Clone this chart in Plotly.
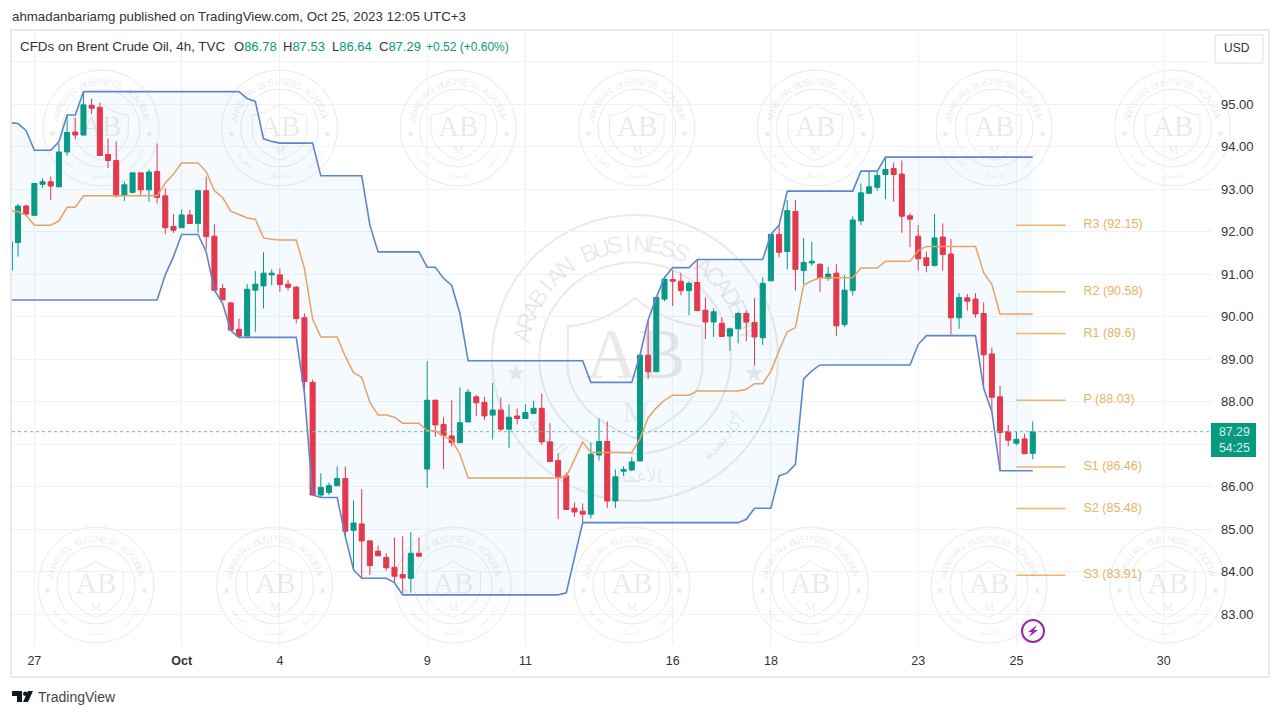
"""
plot.py
-------
Brent Crude 4h candles with Donchian channel, pivot levels and the watermark.
"""

import math
import plotly.graph_objects as go

# ── DATA ─────────────────────────────────────────────
bars = list(range(-1, 125))

opens = [
    91.09, 91.74, 92.60, 92.38, 93.11, 93.17, 93.05, 93.87, 94.34, 94.27,
    94.97, 94.92, 93.81, 93.67, 92.85, 92.92, 93.38, 92.98, 93.41, 92.84,
    92.12, 92.09, 92.39, 92.19, 92.96, 91.89, 90.66, 90.32, 89.70, 89.54,
    90.62, 90.72, 90.98, 90.98, 90.76, 90.69, 89.97, 88.45, 85.80, 85.86,
    86.02, 86.19, 84.97, 85.12, 84.72, 84.48, 84.33, 84.10, 83.93, 83.84,
    84.43, 86.41, 88.03, 87.46, 87.19, 87.03, 87.52, 88.11, 87.98, 87.68,
    87.80, 87.35, 87.66, 87.60, 87.72, 87.84, 87.05, 86.61, 86.25, 85.49,
    85.42, 85.35, 86.74, 87.06, 85.66, 86.36, 86.39, 86.60, 89.09, 88.70,
    90.41, 90.87, 90.83, 90.61, 90.80, 90.15, 89.87, 89.84, 89.54, 89.71,
    90.07, 89.86, 89.50, 90.84, 91.93, 91.53, 92.47, 91.08, 91.26, 91.23,
    90.90, 91.02, 89.81, 90.61, 92.25, 92.90, 93.04, 93.34, 93.48, 93.35,
    92.37, 91.89, 91.38, 91.20, 91.87, 91.47, 89.97, 90.44, 90.41, 90.07,
    89.12, 88.11, 87.29, 87.02, 87.12, 86.78]
highs = [
    91.75, 92.65, 92.63, 93.13, 93.25, 93.29, 94.07, 94.74, 94.68, 95.29,
    95.13, 95.03, 94.19, 94.12, 93.17, 93.38, 93.38, 93.46, 94.07, 93.02,
    92.41, 92.52, 92.51, 92.96, 93.29, 92.17, 90.76, 90.34, 89.95, 90.76,
    91.07, 91.51, 91.11, 91.13, 90.87, 90.72, 90.07, 88.52, 86.31, 86.09,
    86.47, 86.47, 85.67, 85.94, 84.74, 84.61, 84.43, 84.80, 84.83, 84.92,
    84.80, 88.95, 88.05, 87.63, 88.03, 88.33, 88.29, 88.15, 88.11, 88.44,
    88.09, 87.93, 87.84, 87.93, 88.01, 88.19, 87.49, 86.78, 86.33, 85.62,
    85.60, 87.03, 87.60, 87.53, 86.40, 86.48, 86.69, 89.09, 89.92, 90.45,
    90.92, 91.09, 91.03, 90.83, 91.33, 90.45, 90.19, 89.98, 89.74, 90.11,
    90.14, 90.43, 90.92, 91.93, 92.15, 92.74, 92.74, 91.85, 91.75, 91.25,
    91.17, 91.23, 90.98, 92.36, 93.13, 93.41, 93.41, 93.75, 93.62, 93.67,
    92.43, 92.15, 91.53, 92.41, 92.19, 91.82, 90.55, 90.53, 90.55, 90.33,
    89.27, 88.37, 87.45, 87.29, 87.24, 87.53]
lows = [
    91.09, 91.41, 92.36, 92.38, 93.03, 92.74, 93.05, 93.78, 94.17, 94.27,
    94.76, 93.79, 93.49, 92.80, 92.72, 92.90, 92.86, 92.70, 92.66, 91.94,
    91.97, 92.09, 92.18, 91.97, 91.58, 90.62, 90.39, 89.67, 89.51, 89.54,
    89.64, 90.19, 90.74, 90.58, 90.61, 89.84, 88.19, 85.80, 85.75, 85.80,
    86.02, 84.82, 84.04, 83.84, 83.92, 84.37, 84.02, 83.76, 83.49, 83.50,
    84.36, 85.97, 87.17, 86.41, 86.94, 87.03, 87.52, 87.66, 87.56, 87.11,
    87.31, 86.90, 87.46, 87.60, 87.72, 86.98, 86.57, 85.23, 85.45, 85.29,
    85.15, 85.25, 86.61, 85.49, 85.49, 86.25, 86.36, 86.60, 88.53, 88.70,
    90.36, 90.25, 90.50, 90.03, 90.12, 89.47, 89.52, 89.52, 89.19, 89.37,
    89.42, 88.85, 89.33, 90.84, 91.39, 91.11, 90.61, 90.76, 91.19, 90.58,
    90.84, 89.54, 89.75, 90.49, 92.15, 92.90, 92.96, 92.76, 92.70, 91.97,
    91.63, 91.08, 91.04, 91.17, 91.08, 89.58, 89.71, 90.14, 89.97, 88.31,
    87.76, 86.37, 86.95, 86.97, 86.77, 86.64]
closes = [
    91.75, 92.60, 92.41, 93.13, 93.17, 93.07, 93.87, 94.33, 94.27, 94.98,
    94.90, 93.79, 93.67, 92.84, 93.10, 93.38, 92.98, 93.40, 92.80, 92.09,
    92.03, 92.39, 92.19, 92.96, 91.88, 90.62, 90.39, 89.68, 89.54, 90.64,
    90.76, 91.02, 91.02, 90.75, 90.69, 89.95, 88.47, 85.80, 85.98, 86.02,
    86.19, 84.95, 85.14, 84.72, 84.14, 84.37, 84.09, 83.89, 83.85, 84.43,
    84.36, 88.03, 87.45, 87.20, 87.03, 87.50, 88.22, 87.97, 87.66, 87.80,
    87.35, 87.63, 87.60, 87.74, 87.84, 87.05, 86.59, 86.23, 85.46, 85.40,
    85.35, 86.76, 87.06, 85.66, 86.23, 86.40, 86.58, 89.09, 88.70, 90.45,
    90.88, 90.83, 90.61, 90.78, 90.14, 89.87, 90.11, 89.53, 89.71, 90.07,
    89.87, 89.52, 90.78, 91.93, 91.51, 92.49, 91.11, 91.27, 91.30, 90.91,
    91.00, 89.78, 90.62, 92.27, 92.91, 93.05, 93.32, 93.46, 93.34, 92.36,
    92.29, 91.36, 91.20, 91.85, 91.46, 89.97, 90.45, 90.36, 90.06, 89.10,
    88.10, 87.27, 87.09, 87.11, 86.77, 87.29]

upper = [
    94.56, 94.54, 94.37, 93.91, 93.91, 93.91, 94.11, 94.74, 94.74, 95.29,
    95.29, 95.29, 95.29, 95.29, 95.29, 95.29, 95.29, 95.29, 95.29, 95.29,
    95.29, 95.29, 95.29, 95.29, 95.29, 95.29, 95.29, 95.29, 95.29, 95.13,
    95.06, 94.18, 94.12, 94.08, 94.08, 94.08, 94.08, 94.08, 93.31, 93.31,
    93.31, 93.31, 93.31, 93.31, 92.15, 91.52, 91.52, 91.52, 91.52, 91.52,
    91.52, 91.16, 91.16, 90.90, 90.73, 90.07, 88.96, 88.96, 88.96, 88.96,
    88.96, 88.96, 88.96, 88.96, 88.96, 88.96, 88.96, 88.96, 88.96, 88.96,
    88.96, 88.45, 88.45, 88.45, 88.45, 88.45, 88.45, 89.09, 89.92, 90.45,
    90.92, 91.15, 91.15, 91.15, 91.34, 91.34, 91.34, 91.34, 91.34, 91.34,
    91.34, 91.34, 91.34, 91.93, 92.15, 92.95, 92.95, 92.95, 92.95, 92.95,
    92.95, 92.95, 92.95, 92.95, 93.42, 93.42, 93.42, 93.75, 93.75, 93.75,
    93.75, 93.75, 93.75, 93.75, 93.75, 93.75, 93.75, 93.75, 93.75, 93.75,
    93.75, 93.75, 93.75, 93.75, 93.75, 93.75]
lower = [
    90.39, 90.39, 90.39, 90.39, 90.39, 90.39, 90.39, 90.39, 90.39, 90.39,
    90.39, 90.39, 90.39, 90.39, 90.39, 90.39, 90.39, 90.39, 90.39, 90.98,
    91.41, 91.93, 91.93, 91.93, 91.52, 90.62, 90.31, 89.67, 89.51, 89.51,
    89.51, 89.51, 89.51, 89.51, 89.51, 89.51, 88.19, 85.80, 85.74, 85.74,
    85.74, 84.82, 84.04, 83.84, 83.84, 83.84, 83.84, 83.74, 83.45, 83.45,
    83.45, 83.45, 83.45, 83.45, 83.45, 83.45, 83.45, 83.45, 83.45, 83.45,
    83.45, 83.45, 83.45, 83.45, 83.45, 83.45, 83.45, 83.45, 83.50, 84.33,
    85.15, 85.15, 85.15, 85.15, 85.15, 85.15, 85.15, 85.15, 85.15, 85.15,
    85.15, 85.15, 85.15, 85.15, 85.15, 85.15, 85.15, 85.15, 85.15, 85.15,
    85.23, 85.49, 85.49, 85.49, 86.25, 86.32, 86.52, 88.53, 88.72, 88.86,
    88.86, 88.86, 88.86, 88.86, 88.86, 88.86, 88.86, 88.86, 88.86, 88.86,
    88.86, 89.34, 89.55, 89.55, 89.55, 89.55, 89.55, 89.55, 89.55, 88.31,
    87.76, 86.37, 86.37, 86.37, 86.37, 86.37]
basis = [
    92.48, 92.47, 92.38, 92.15, 92.15, 92.15, 92.25, 92.57, 92.57, 92.84,
    92.84, 92.84, 92.84, 92.84, 92.84, 92.84, 92.84, 92.84, 92.84, 93.14,
    93.35, 93.61, 93.61, 93.61, 93.41, 92.96, 92.80, 92.48, 92.40, 92.32,
    92.29, 91.85, 91.82, 91.80, 91.80, 91.80, 91.13, 89.94, 89.52, 89.52,
    89.52, 89.06, 88.68, 88.57, 87.98, 87.68, 87.68, 87.63, 87.49, 87.49,
    87.49, 87.31, 87.31, 87.18, 87.09, 86.76, 86.20, 86.20, 86.20, 86.20,
    86.20, 86.20, 86.20, 86.20, 86.20, 86.20, 86.20, 86.20, 86.23, 86.64,
    87.05, 86.80, 86.80, 86.80, 86.80, 86.80, 86.80, 87.12, 87.62, 87.85,
    88.03, 88.15, 88.15, 88.15, 88.25, 88.25, 88.25, 88.25, 88.25, 88.25,
    88.29, 88.42, 88.42, 88.71, 89.20, 89.64, 89.74, 90.74, 90.84, 90.91,
    90.91, 90.91, 90.91, 90.91, 91.14, 91.14, 91.14, 91.30, 91.30, 91.30,
    91.30, 91.55, 91.65, 91.65, 91.65, 91.65, 91.65, 91.65, 91.65, 91.03,
    90.75, 90.06, 90.06, 90.06, 90.06, 90.06]

pivot_names = ["R3", "R2", "R1", "P", "S1", "S2", "S3"]
pivot_labels = ["92.15", "90.58", "89.6", "88.03", "86.46", "85.48", "83.91"]
pivot_values = [92.15, 90.58, 89.60, 88.03, 86.46, 85.48, 83.91]

date_ticks = [2, 20, 32, 50, 62, 80, 92, 110, 122, 140]
date_labels = ["27", "<b>Oct</b>", "4", "9", "11", "16", "18", "23", "25", "30"]
price_ticks = [83, 84, 85, 86, 87, 88, 89, 90, 91, 92, 93, 94, 95, 96]
# 87.00 sits behind the last-price badge, 96.00 behind the header: grid only
price_labels = ["83.00", "84.00", "85.00", "86.00", "", "88.00", "89.00",
                "90.00", "91.00", "92.00", "93.00", "94.00", "95.00", ""]
last_price = 87.29

# ── STYLE ────────────────────────────────────────────
GREEN = "#089981"
RED = "#EE3345"
BLUE = "#5F86CC"
ORANGE = "#E9A263"
PIVOT = "#F0B566"
GRID = "#F0F2F6"
FRAME = "#E8EAEE"
MARK = "rgba(120,125,135,0.16)"
FONT = "Liberation Sans"
L, R, T, B = 12, 1212, 30, 645   # plot area in page pixels


def px(x):
    return (x - L) / (R - L)


def py(y):
    return (B - y) / (B - T)


def path(points):
    return "M " + " L ".join(f"{px(x):.5f},{py(y):.5f}" for x, y in points) + " Z"


def text(x, y, s, size=12, color="#333", angle=0, family=FONT, anchor="center"):
    return dict(xref="paper", yref="paper", x=px(x), y=py(y), text=s, textangle=angle,
                showarrow=False, xanchor=anchor, yanchor="middle",
                font=dict(size=size, color=color, family=family))


# ── WATERMARK ────────────────────────────────────────
shapes, notes = [], []


def watermark(cx, cy, r, lw):
    for k in (1.0, 0.67):
        shapes.append(dict(type="circle", xref="paper", yref="paper", layer="below",
                           x0=px(cx - r * k), x1=px(cx + r * k),
                           y0=py(cy + r * k), y1=py(cy - r * k),
                           line=dict(color="#E9EAEC", width=lw)))
    p = lambda a, b: f"{px(cx + a * r):.5f},{py(cy + b * r):.5f}"
    shield = (f"M {p(0, -.42)} Q {p(.2, -.25)} {p(.47, -.22)} L {p(.47, .1)} "
              f"Q {p(.42, .4)} {p(0, .56)} Q {p(-.42, .4)} {p(-.47, .1)} "
              f"L {p(-.47, -.22)} Q {p(-.2, -.25)} {p(0, -.42)} Z")
    shapes.append(dict(type="path", xref="paper", yref="paper", layer="below", path=shield,
                       line=dict(color="#E9EAEC", width=lw)))
    notes.append(text(cx, cy - .03 * r, "AB", r * .5, MARK, family="Liberation Serif"))
    notes.append(text(cx, cy + .38 * r, "M", r * .2, MARK, family="Liberation Serif"))
    for s, sign in (("★", -1), ("★", 1)):
        notes.append(text(cx + sign * .83 * r, cy + .1 * r, s, r * .17, MARK, family="DejaVu Sans"))
    word = "ARABIAN BUSINESS ACADEMY"
    for i, ch in enumerate(word):
        if ch == " ":
            continue
        deg = 168 - i * 156 / (len(word) - 1)
        a = math.radians(deg)
        notes.append(text(cx + .8 * r * math.cos(a), cy - .8 * r * math.sin(a), ch,
                          r * .165, MARK, 90 - deg))
    for w, deg in (("أكاديمية", -42), ("الأعمال", -90), ("العربية", -138)):
        a = math.radians(deg)
        notes.append(text(cx + .82 * r * math.cos(a), cy - .82 * r * math.sin(a), w,
                          r * .12, MARK, -(deg + 90), family="DejaVu Sans"))


for k in range(7):
    watermark(101 + 178.6 * k, 128, 58, 1)
    watermark(96 + 178.6 * k, 585, 58, 1)
watermark(635, 358, 143, 2)

# ── FRAME, HEADER, BADGES ────────────────────────────
shapes.append(dict(type="rect", xref="paper", yref="paper", layer="below",
                   x0=px(11), x1=px(1269), y0=py(677), y1=py(30),
                   line=dict(color=FRAME, width=2)))
shapes.append(dict(type="rect", xref="paper", yref="paper", layer="above",
                   x0=px(1215), x1=px(1263), y0=py(63), y1=py(35), fillcolor="white",
                   line=dict(color=FRAME, width=1.5)))
shapes.append(dict(type="rect", xref="paper", yref="paper", layer="above",
                   x0=px(1211), x1=px(1256), y0=py(457), y1=py(423), fillcolor=GREEN,
                   line=dict(width=0)))
shapes.append(dict(type="circle", xref="paper", yref="paper", layer="above",
                   x0=px(1022), x1=px(1044), y0=py(642), y1=py(620),
                   line=dict(color="#9C27B0", width=2)))
shapes.append(dict(type="path", xref="paper", yref="paper", layer="above", fillcolor="#9C27B0",
                   path=path([(1037, 625), (1028, 632), (1032, 632), (1029, 637), (1038, 630), (1034, 630)]),
                   line=dict(width=0)))
# TradingView logo
shapes.append(dict(type="path", xref="paper", yref="paper", layer="above", fillcolor="#131722",
                   path=path([(12, 691), (22, 691), (22, 702), (17, 702), (17, 696), (12, 696)]),
                   line=dict(width=0)))
shapes.append(dict(type="path", xref="paper", yref="paper", layer="above", fillcolor="#131722",
                   path=path([(28, 691), (33, 691), (28, 702), (23, 702)]),
                   line=dict(width=0)))
shapes.append(dict(type="circle", xref="paper", yref="paper", layer="above", fillcolor="#131722",
                   x0=px(23), x1=px(27.5), y0=py(696), y1=py(691.5), line=dict(width=0)))

notes.append(text(10, 17, "ahmadanbariamg published on TradingView.com, Oct 25, 2023 12:05 UTC+3",
                  13.3, "#333", anchor="left"))
notes.append(text(18, 47, "CFDs on Brent Crude Oil, 4h, TVC", 13.4, "#333", anchor="left"))
notes.append(text(232, 47, f"O<span style='color:{GREEN}'>86.78</span>", 13, "#333", anchor="left"))
notes.append(text(281, 47, f"H<span style='color:{GREEN}'>87.53</span>", 13, "#333", anchor="left"))
notes.append(text(330, 47, f"L<span style='color:{GREEN}'>86.64</span>", 13, "#333", anchor="left"))
notes.append(text(377, 47, f"C<span style='color:{GREEN}'>87.29</span>", 13, "#333", anchor="left"))
notes.append(text(424, 47, "+0.52 (+0.60%)", 12, GREEN, anchor="left"))
notes.append(text(1237, 48, "USD", 12, "#333"))
notes.append(text(1234, 440, "87.29<br>54:25", 12.3, "#D5F2EC"))
notes.append(text(36, 697, "TradingView", 14, "#444", anchor="left"))

# ── PLOT ─────────────────────────────────────────────
fig = go.Figure()
fig.add_trace(go.Scatter(x=bars, y=upper, mode="lines", line=dict(color=BLUE, width=1.6)))
fig.add_trace(go.Scatter(x=bars, y=lower, mode="lines", line=dict(color=BLUE, width=1.6),
                         fill="tonexty", fillcolor="rgba(33,150,243,0.05)"))
fig.add_trace(go.Scatter(x=bars, y=basis, mode="lines", line=dict(color=ORANGE, width=1.5)))
fig.add_trace(go.Candlestick(
    x=bars, open=opens, high=highs, low=lows, close=closes, whiskerwidth=0,
    increasing=dict(line=dict(color=GREEN, width=1), fillcolor=GREEN),
    decreasing=dict(line=dict(color=RED, width=1), fillcolor=RED)))

for name, label, value in zip(pivot_names, pivot_labels, pivot_values):
    fig.add_trace(go.Scatter(x=[122, 128], y=[value, value], mode="lines",
                             line=dict(color=PIVOT, width=1.5)))
    fig.add_trace(go.Scatter(x=[130.2], y=[value], mode="text", text=[f"{name} ({label})"],
                             textposition="middle right",
                             textfont=dict(color="#E8B365", size=12.5, family=FONT)))

fig.add_hline(y=last_price, line=dict(color="#6DBDAF", width=1, dash="dot"))

fig.update_layout(
    width=1280, height=716, autosize=False,
    margin=dict(l=L, r=1280 - R, t=T, b=716 - B),
    paper_bgcolor="white", plot_bgcolor="white",
    showlegend=False, hovermode=False, boxgap=0.12,
    shapes=list(fig.layout.shapes) + shapes, annotations=notes,
    xaxis=dict(range=[-0.733, 145.9], rangeslider=dict(visible=False),
               tickmode="array", tickvals=date_ticks, ticktext=date_labels,
               showgrid=True, gridcolor=GRID, gridwidth=1, zeroline=False, showline=False,
               ticks="", ticklabelstandoff=6, tickfont=dict(size=12.5, color="#333", family=FONT)),
    yaxis=dict(range=[82.271, 96.741], side="right",
               tickmode="array", tickvals=price_ticks, ticktext=price_labels,
               showgrid=True, gridcolor=GRID, gridwidth=1, zeroline=False, showline=False,
               ticks="", ticklabelstandoff=8, tickfont=dict(size=13, color="#333", family=FONT)))

fig.write_html("out.html", config=dict(displayModeBar=False),
               post_script="document.body.style.margin='0';")
